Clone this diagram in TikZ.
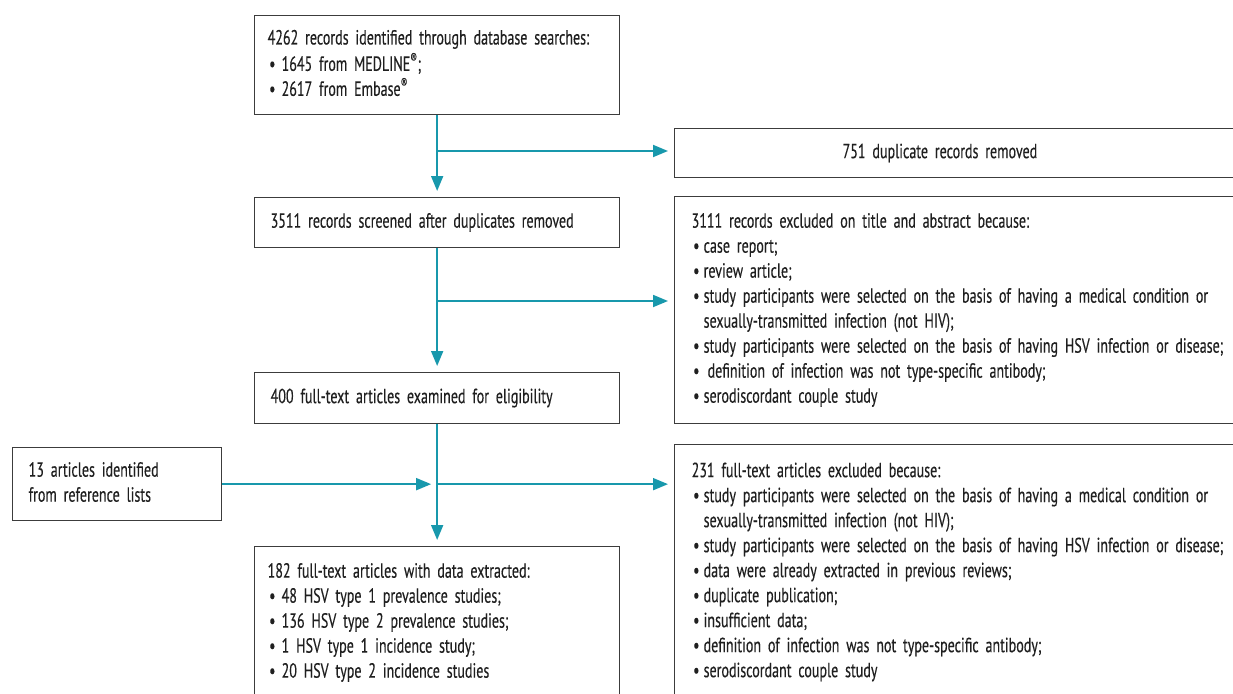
\documentclass[tikz,border=0pt]{standalone}
\usepackage{fontspec}
\setmainfont{PT Sans}[FakeStretch=0.685,FakeBold=0.3]
\usetikzlibrary{arrows.meta}
\definecolor{tealc}{RGB}{24,152,172}
\definecolor{boxc}{RGB}{60,60,60}
\newcommand\fs{\fontsize{20.5}{25}\selectfont}
\newcommand\itmL[1]{\mbox{\makebox[14pt][l]{\hspace{1.5pt}•}#1}}
\newcommand\itmR[1]{\mbox{\makebox[12pt][l]{\hspace{1.5pt}•}#1}}
\newcommand\contR[1]{\mbox{\hspace{12pt}#1}}
\begin{document}
\begin{tikzpicture}[x=1pt,y=-1pt,
  bx/.style={draw=boxc, line width=1.3pt, rectangle, anchor=north west,
    inner ysep=0pt, align=left, font=\fs, text=black!88,
    execute at begin node={\strut}, execute at end node={\strut}},
  arr/.style={draw=tealc, line width=1.8pt, -{Triangle[length=15pt,width=12pt]}, shorten >=6pt}]
\useasboundingbox (0,0) rectangle (1233,693);
\clip (0,0) rectangle (1233,693);
% left column
\node[bx, minimum width=365pt, minimum height=99pt, text width=339pt, inner xsep=13pt] (b1) at (254,15)
 {\mbox{4262 records identified through database searches:}\\
  \itmL{1645 from MEDLINE\textsuperscript{®};}\\
  \itmL{2617 from Embase\textsuperscript{®}}};
\node[bx, minimum width=365pt, minimum height=50pt, text width=333pt, inner xsep=16pt] (scr) at (254,197)
 {\mbox{3511 records screened after duplicates removed}};
\node[bx, minimum width=365pt, minimum height=51pt, text width=333pt, inner xsep=16pt] (ft) at (254,372)
 {\mbox{400 full-text articles examined for eligibility}};
\node[bx, minimum width=365pt, minimum height=152pt, text width=339pt, inner xsep=13pt] (inc) at (254,546)
 {\mbox{182 full-text articles with data extracted:}\\
  \itmL{48 HSV type 1 prevalence studies;}\\
  \itmL{136 HSV type 2 prevalence studies;}\\
  \itmL{1 HSV type 1 incidence study;}\\
  \itmL{20 HSV type 2 incidence studies}};
\node[bx, minimum width=209pt, minimum height=73pt, text width=177pt, inner xsep=16pt] (ref) at (12,447)
 {\mbox{13 articles identified}\\ \mbox{from reference lists}};
% right column
\node[bx, minimum width=600pt, minimum height=49pt, text width=566pt, inner xsep=17pt] (dup) at (674,128)
 {\mbox{\hspace*{151pt}751 duplicate records removed}};
\node[bx, minimum width=600pt, minimum height=227pt, text width=566pt, inner xsep=17pt] (exc1) at (674,196)
 {\mbox{3111 records excluded on title and abstract because:}\\
  \itmR{case report;}\\
  \itmR{review article;}\\
  \itmR{study participants were selected on the basis of having a medical condition or}\\
  \contR{sexually-transmitted infection (not HIV);}\\
  \itmR{study participants were selected on the basis of having HSV infection or disease;}\\
  \itmR{\hspace{4pt}definition of infection was not type-specific antibody;}\\
  \itmR{serodiscordant couple study}};
\node[bx, minimum width=600pt, minimum height=255pt, text width=566pt, inner xsep=17pt] (exc2) at (674,444)
 {\mbox{231 full-text articles excluded because:}\\
  \itmR{study participants were selected on the basis of having a medical condition or}\\
  \contR{sexually-transmitted infection (not HIV);}\\
  \itmR{study participants were selected on the basis of having HSV infection or disease;}\\
  \itmR{data were already extracted in previous reviews;}\\
  \itmR{duplicate publication;}\\
  \itmR{insufficient data;}\\
  \itmR{definition of infection was not type-specific antibody;}\\
  \itmR{serodiscordant couple study}};
% junctions
\coordinate (j1) at (b1.south |- 0,151);
\coordinate (j2) at (scr.south |- 0,301);
\coordinate (j3) at (ft.south |- ref.east);
% connectors
\draw[arr] (b1.south) -- (scr.north);
\draw[arr] (j1) -- (j1 -| dup.west);
\draw[arr] (scr.south) -- (ft.north);
\draw[arr] (j2) -- (j2 -| exc1.west);
\draw[arr] (ft.south) -- (inc.north);
\draw[arr] (ref.east) -- (j3);
\draw[arr] (j3) -- (j3 -| exc2.west);
\end{tikzpicture}
\end{document}
